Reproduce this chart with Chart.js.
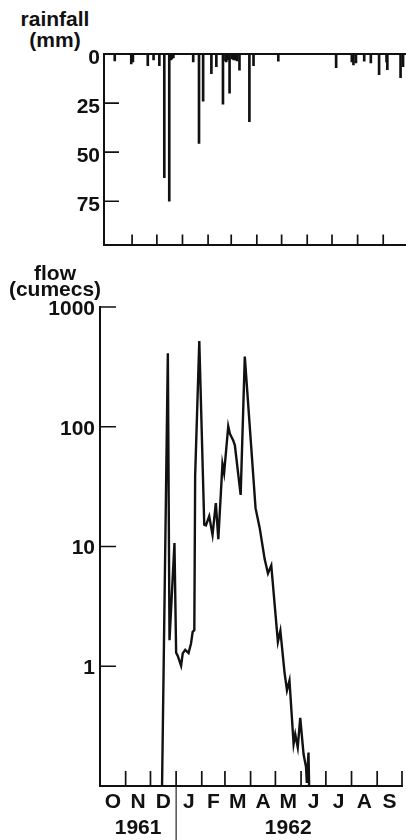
<!DOCTYPE html>
<html>
<head>
<meta charset="utf-8">
<script src="https://cdn.jsdelivr.net/npm/chart.js@4.4.1/dist/chart.umd.min.js"></script>
<style>
  html, body { margin: 0; padding: 0; background: #fff; width: 406px; height: 840px; overflow: hidden; }
  body { position: relative; font-family: 'Liberation Sans', Arial, sans-serif; font-weight: bold; color: #111; }
  canvas { position: absolute; left: 0; }
  .axis-title { position: absolute; left: 0; width: 110px; text-align: center; font-size: 21px; line-height: 21px; white-space: nowrap; }
</style>
</head>
<body>
  <div class="axis-title" style="top:8px">rainfall</div>
  <div class="axis-title" style="top:29px">(mm)</div>
  <canvas id="chart-rain" width="410" height="262" style="top:0"></canvas>
  <div class="axis-title" style="top:262px">flow</div>
  <div class="axis-title" style="top:278px">(cumecs)</div>
  <canvas id="chart-flow" width="406" height="580" style="top:260px"></canvas>

<script>
const INK = '#111';

// days counted from 1 Oct 1961
const monthStarts = [0, 31, 61, 92, 123, 151, 182, 212, 243, 273, 304, 335, 365];
const monthLabels = ['O', 'N', 'D', 'J', 'F', 'M', 'A', 'M', 'J', 'J', 'A', 'S'];
const yearLabels = { 1: '1961', 7: '1962' };

// daily rainfall (mm), only the days with rain
const rainDay = [10, 30, 32, 50, 57, 64, 70, 76, 78, 79, 81, 105, 112, 117, 127, 133, 141, 144, 145, 147, 149,
  152, 154, 156, 158, 161, 173, 178, 208, 278, 297, 299, 302, 312, 320, 330, 339, 340, 356, 359];
const rainMm = [3.5, 5, 4, 6, 3, 6, 63, 75, 3, 2.5, 2, 4, 45.5, 24, 10, 6.5, 25.5, 3.5, 4, 3, 20,
  2.5, 3, 3, 3.5, 8.3, 34.5, 6, 3.7, 7, 4, 5.5, 4.5, 3.7, 4.5, 10.5, 4, 8, 12, 6.5];

// river flow (cumecs)
const flowDay = [75, 82, 84, 90, 92, 94, 98, 100, 103, 107, 110, 112, 114, 115, 120, 126, 128, 132, 136, 140,
  143, 148, 150, 155, 157, 161, 163, 170, 175, 188, 193, 199, 203, 207, 215, 218, 223, 226, 229, 234,
  236, 239, 242, 246, 249, 250, 252, 253];
const flowCumecs = [0.1, 410, 1.65, 10.7, 1.3, 1.22, 1.01, 1.28, 1.37, 1.29, 1.55, 1.94, 2.0, 39, 520, 15.2, 15, 17.9, 12.5, 23,
  11.5, 49, 41, 101, 87.5, 77, 70, 27, 385, 20.9, 14.3, 7.85, 5.96, 6.95, 1.6, 1.98, 0.89, 0.63, 0.76, 0.224,
  0.27, 0.21, 0.37, 0.185, 0.144, 0.106, 0.19, 0.08];

const rainTicks = [0, 25, 50, 75];
const flowTicks = [1, 10, 100, 1000];

Chart.defaults.font.family = "'Liberation Sans', Arial, sans-serif";
Chart.defaults.font.size = 21;
Chart.defaults.font.weight = 'bold';
Chart.defaults.color = INK;
Chart.defaults.animation = false;

// tick marks point into the plot area, as on the original figure
const inwardTicks = {
  id: 'inwardTicks',
  afterDraw(chart, args, opts) {
    const { ctx, chartArea: a, scales: { x, y } } = chart;
    ctx.save();
    ctx.strokeStyle = INK;
    ctx.lineWidth = 1.7;
    ctx.beginPath();
    opts.xAt.forEach(d => {
      const px = x.getPixelForValue(d);
      ctx.moveTo(px, a.bottom);
      ctx.lineTo(px, a.bottom - opts.xLen);
    });
    opts.yAt.forEach(v => {
      const py = y.getPixelForValue(v);
      ctx.moveTo(a.left, py);
      ctx.lineTo(a.left + opts.yLen, py);
    });
    ctx.stroke();
    if (opts.divider != null) {
      const px = x.getPixelForValue(opts.divider);
      ctx.lineWidth = 1.1;
      ctx.beginPath();
      ctx.moveTo(px, a.bottom);
      ctx.lineTo(px, chart.height);
      ctx.stroke();
    }
    ctx.restore();
  }
};

const border = { display: true, color: INK, width: 2 };

new Chart(document.getElementById('chart-rain'), {
  type: 'bar',
  data: {
    datasets: [{
      data: rainDay.map((d, i) => ({ x: d, y: rainMm[i] })),
      backgroundColor: INK,
      barThickness: 2,
    }]
  },
  options: {
    responsive: false,
    layout: { padding: { top: 54, right: 2, left: 0, bottom: 0 } },
    plugins: {
      legend: { display: false },
      tooltip: { enabled: false },
      inwardTicks: { xAt: monthStarts.slice(1), xLen: 11, yAt: [25, 50, 75], yLen: 15 },
    },
    scales: {
      x: {
        type: 'linear', min: -3, max: 365, offset: false,
        ticks: { display: false },
        grid: { display: false, drawTicks: false },
        border,
        afterFit: s => { s.height = 13; },
      },
      y: {
        type: 'linear', reverse: true, min: 0, max: 97.5,
        afterBuildTicks: s => { s.ticks = rainTicks.map(v => ({ value: v })); },
        ticks: { padding: 4, labelOffset: 4 },
        grid: { drawTicks: false, lineWidth: 2, color: c => (c.tick && c.tick.value === 0 ? INK : 'rgba(0,0,0,0)') },
        border,
        afterFit: s => { s.width = 104; },
      }
    }
  },
  plugins: [inwardTicks]
});

new Chart(document.getElementById('chart-flow'), {
  type: 'line',
  data: {
    datasets: [{
      data: flowDay.map((d, i) => ({ x: d, y: flowCumecs[i] })),
      borderColor: INK,
      borderWidth: 2.4,
      pointRadius: 0,
      tension: 0,
      fill: false,
    }]
  },
  options: {
    responsive: false,
    layout: { padding: { top: 47, right: 4, left: 0, bottom: 0 } },
    plugins: {
      legend: { display: false },
      tooltip: { enabled: false },
      inwardTicks: { xAt: monthStarts.slice(1), xLen: 15, yAt: flowTicks, yLen: 16, divider: monthStarts[3] },
    },
    scales: {
      x: {
        type: 'linear', min: 0, max: 365,
        afterBuildTicks: s => {
          s.ticks = monthStarts.slice(0, -1).map((d, i) => ({ value: (d + monthStarts[i + 1]) / 2 }));
        },
        ticks: {
          autoSkip: false, maxRotation: 0, padding: 4,
          font: { lineHeight: 1.2 },
          callback: (v, i) => (yearLabels[i] ? [monthLabels[i], yearLabels[i]] : monthLabels[i]),
        },
        grid: { display: false, drawTicks: false },
        border,
        afterFit: s => { s.height = 54; },
      },
      y: {
        type: 'logarithmic', min: 0.1, max: 1000,
        afterBuildTicks: s => { s.ticks = flowTicks.map(v => ({ value: v })); },
        ticks: { padding: 5, labelOffset: 2, callback: v => String(v) },
        grid: { display: false, drawTicks: false },
        border,
        afterFit: s => { s.width = 100; },
      }
    }
  },
  plugins: [inwardTicks]
});
</script>
</body>
</html>
